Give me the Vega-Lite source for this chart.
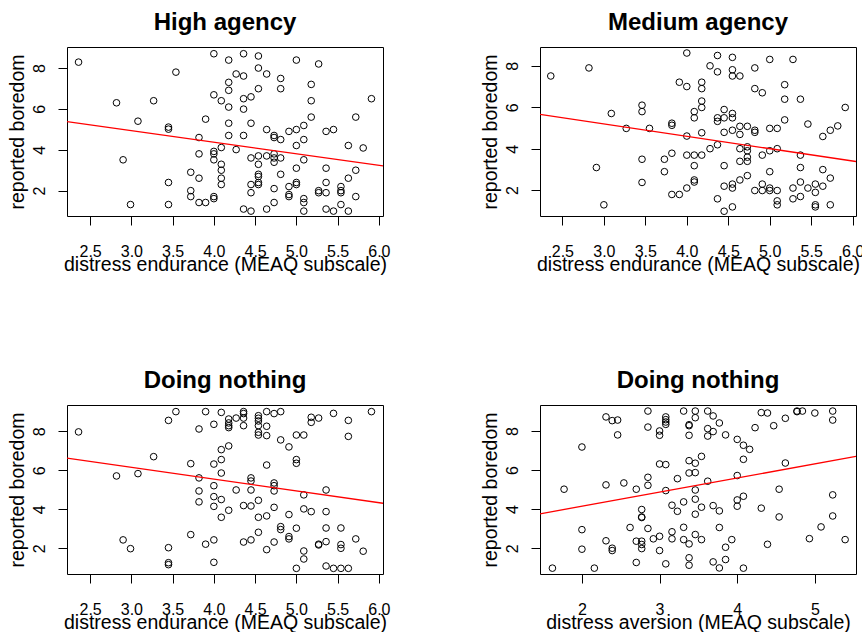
{
  "$schema": "https://vega.github.io/schema/vega-lite/v6.json",
  "background": "white",
  "padding": {"left": 6, "top": 10, "right": 10, "bottom": 0},
  "bounds": "flush",
  "spacing": 358,
  "datasets": {
    "high": [
      {"x":2.36,"y":8.29},{"x":3.54,"y":7.80},{"x":4.0,"y":8.70},{"x":4.18,"y":8.39},{"x":4.36,"y":8.70},{"x":4.54,"y":8.59},{"x":5.0,"y":8.39},{"x":5.27,"y":8.20},{"x":4.54,"y":8.0},{"x":4.64,"y":7.71},
      {"x":4.27,"y":7.71},{"x":4.36,"y":7.61},{"x":4.18,"y":7.30},{"x":4.18,"y":6.91},{"x":4.81,"y":7.49},{"x":4.81,"y":6.99},{"x":5.18,"y":7.20},{"x":4.54,"y":6.99},{"x":4.45,"y":6.59},{"x":4.36,"y":6.50},
      {"x":4.0,"y":6.69},{"x":4.09,"y":6.40},{"x":4.18,"y":6.09},{"x":4.36,"y":5.99},{"x":5.18,"y":6.40},{"x":5.91,"y":6.50},{"x":2.82,"y":6.30},{"x":3.27,"y":6.40},{"x":3.08,"y":5.40},{"x":3.45,"y":5.11},
      {"x":3.45,"y":5.01},{"x":3.90,"y":5.50},{"x":4.18,"y":5.30},{"x":4.45,"y":5.30},{"x":5.18,"y":5.60},{"x":5.72,"y":5.60},{"x":5.09,"y":5.19},{"x":5.0,"y":4.99},{"x":4.91,"y":4.90},{"x":4.64,"y":4.99},
      {"x":4.73,"y":4.70},{"x":4.73,"y":4.60},{"x":4.81,"y":4.50},{"x":5.36,"y":4.90},{"x":5.45,"y":4.99},{"x":4.18,"y":4.70},{"x":4.36,"y":4.70},{"x":3.82,"y":4.60},{"x":5.09,"y":4.50},{"x":5.0,"y":4.21},
      {"x":5.63,"y":4.21},{"x":5.81,"y":4.09},{"x":4.09,"y":4.11},{"x":4.27,"y":4.01},{"x":4.0,"y":3.92},{"x":4.0,"y":3.80},{"x":3.82,"y":3.80},{"x":4.0,"y":3.51},{"x":2.90,"y":3.51},{"x":4.45,"y":3.60},
      {"x":4.54,"y":3.70},{"x":4.64,"y":3.70},{"x":4.73,"y":3.80},{"x":4.73,"y":3.60},{"x":4.73,"y":3.39},{"x":4.81,"y":3.60},{"x":5.09,"y":3.51},{"x":4.54,"y":3.29},{"x":4.09,"y":3.29},{"x":4.09,"y":3.0},
      {"x":4.09,"y":2.61},{"x":4.09,"y":2.30},{"x":3.72,"y":2.90},{"x":3.82,"y":2.61},{"x":3.45,"y":2.40},{"x":3.72,"y":2.0},{"x":3.72,"y":1.71},{"x":3.82,"y":1.42},{"x":3.90,"y":1.42},{"x":4.0,"y":1.71},
      {"x":4.0,"y":1.61},{"x":2.99,"y":1.32},{"x":3.45,"y":1.32},{"x":4.36,"y":1.10},{"x":4.45,"y":1.0},{"x":4.45,"y":1.90},{"x":4.45,"y":2.30},{"x":4.54,"y":2.80},{"x":4.54,"y":2.69},{"x":4.54,"y":2.40},
      {"x":4.54,"y":2.30},{"x":4.64,"y":1.10},{"x":4.73,"y":1.42},{"x":4.73,"y":2.10},{"x":4.81,"y":2.80},{"x":4.91,"y":2.20},{"x":4.91,"y":1.81},{"x":4.91,"y":1.71},{"x":5.0,"y":3.10},{"x":5.0,"y":2.40},
      {"x":5.0,"y":2.30},{"x":5.09,"y":1.61},{"x":5.09,"y":1.42},{"x":5.09,"y":1.0},{"x":5.27,"y":2.0},{"x":5.27,"y":1.90},{"x":5.36,"y":1.90},{"x":5.36,"y":2.40},{"x":5.36,"y":3.10},{"x":5.36,"y":1.10},
      {"x":5.45,"y":1.0},{"x":5.54,"y":2.20},{"x":5.54,"y":2.0},{"x":5.54,"y":1.90},{"x":5.54,"y":1.32},{"x":5.63,"y":2.61},{"x":5.63,"y":1.0},{"x":5.72,"y":3.0},{"x":5.72,"y":1.71}
    ],
    "medium": [
      {"x":2.36,"y":7.51},{"x":2.82,"y":7.90},{"x":2.91,"y":3.09},{"x":3.0,"y":1.29},{"x":3.09,"y":5.70},{"x":3.27,"y":4.98},{"x":3.46,"y":6.10},{"x":3.46,"y":5.79},{"x":3.46,"y":3.49},{"x":3.46,"y":2.37},
      {"x":3.55,"y":4.98},{"x":3.73,"y":3.49},{"x":3.73,"y":2.89},{"x":3.82,"y":5.23},{"x":3.82,"y":5.13},{"x":3.82,"y":3.78},{"x":3.82,"y":1.79},{"x":3.91,"y":7.21},{"x":3.91,"y":1.79},{"x":4.0,"y":8.62},
      {"x":4.0,"y":7.0},{"x":4.0,"y":4.61},{"x":4.0,"y":3.69},{"x":4.0,"y":2.10},{"x":4.09,"y":5.79},{"x":4.09,"y":5.49},{"x":4.09,"y":3.69},{"x":4.09,"y":3.18},{"x":4.09,"y":2.49},{"x":4.09,"y":2.39},
      {"x":4.18,"y":7.21},{"x":4.18,"y":6.90},{"x":4.18,"y":6.30},{"x":4.18,"y":5.99},{"x":4.18,"y":4.77},{"x":4.18,"y":3.69},{"x":4.28,"y":8.0},{"x":4.28,"y":4.0},{"x":4.37,"y":8.5},{"x":4.37,"y":7.71},
      {"x":4.37,"y":5.49},{"x":4.37,"y":5.32},{"x":4.37,"y":4.19},{"x":4.37,"y":1.58},{"x":4.45,"y":5.89},{"x":4.45,"y":5.49},{"x":4.45,"y":4.79},{"x":4.45,"y":3.18},{"x":4.45,"y":2.19},{"x":4.45,"y":0.98},
      {"x":4.55,"y":8.41},{"x":4.55,"y":7.81},{"x":4.55,"y":7.51},{"x":4.64,"y":7.51},{"x":4.55,"y":5.70},{"x":4.55,"y":5.49},{"x":4.55,"y":4.89},{"x":4.55,"y":2.29},{"x":4.55,"y":2.10},{"x":4.55,"y":1.19},
      {"x":4.64,"y":5.08},{"x":4.64,"y":4.69},{"x":4.64,"y":4.0},{"x":4.64,"y":3.39},{"x":4.64,"y":2.49},{"x":4.73,"y":5.08},{"x":4.73,"y":4.09},{"x":4.73,"y":3.90},{"x":4.73,"y":3.59},{"x":4.73,"y":3.39},
      {"x":4.73,"y":2.70},{"x":4.82,"y":7.90},{"x":4.82,"y":6.90},{"x":4.82,"y":4.89},{"x":4.82,"y":4.79},{"x":4.82,"y":1.98},{"x":4.91,"y":6.70},{"x":4.91,"y":3.69},{"x":4.91,"y":2.29},{"x":4.91,"y":1.98},
      {"x":5.0,"y":8.31},{"x":5.0,"y":4.98},{"x":5.0,"y":3.90},{"x":5.0,"y":2.89},{"x":5.0,"y":2.10},{"x":5.0,"y":1.98},{"x":5.09,"y":4.98},{"x":5.09,"y":4.0},{"x":5.09,"y":1.98},{"x":5.09,"y":1.48},
      {"x":5.09,"y":1.29},{"x":5.18,"y":7.09},{"x":5.18,"y":6.39},{"x":5.18,"y":5.39},{"x":5.28,"y":8.31},{"x":5.28,"y":2.10},{"x":5.28,"y":1.58},{"x":5.37,"y":6.39},{"x":5.37,"y":3.69},{"x":5.37,"y":3.09},
      {"x":5.37,"y":2.39},{"x":5.37,"y":1.69},{"x":5.46,"y":5.19},{"x":5.46,"y":2.10},{"x":5.55,"y":2.29},{"x":5.55,"y":1.89},{"x":5.55,"y":1.29},{"x":5.55,"y":1.19},{"x":5.64,"y":4.59},{"x":5.64,"y":2.99},
      {"x":5.64,"y":2.19},{"x":5.73,"y":4.89},{"x":5.73,"y":2.58},{"x":5.73,"y":1.29},{"x":5.82,"y":5.10},{"x":5.91,"y":5.99}
    ],
    "nothing_endurance": [
      {"x":2.36,"y":7.97},{"x":2.82,"y":5.71},{"x":3.08,"y":5.83},{"x":3.27,"y":6.70},{"x":2.90,"y":2.43},{"x":2.99,"y":1.98},{"x":3.45,"y":8.56},{"x":3.54,"y":9.01},{"x":3.45,"y":2.03},{"x":3.45,"y":1.26},
      {"x":3.45,"y":1.16},{"x":3.72,"y":6.34},{"x":3.72,"y":2.70},{"x":3.82,"y":8.12},{"x":3.82,"y":5.61},{"x":3.82,"y":4.94},{"x":3.82,"y":4.38},{"x":3.90,"y":9.01},{"x":3.90,"y":2.21},{"x":4.0,"y":8.36},
      {"x":4.0,"y":6.32},{"x":4.0,"y":5.21},{"x":4.0,"y":4.65},{"x":4.0,"y":4.15},{"x":4.0,"y":2.43},{"x":4.0,"y":1.28},{"x":4.09,"y":8.97},{"x":4.09,"y":7.06},{"x":4.09,"y":6.55},{"x":4.09,"y":5.86},
      {"x":4.09,"y":4.50},{"x":4.09,"y":3.59},{"x":4.18,"y":8.63},{"x":4.18,"y":8.43},{"x":4.18,"y":8.29},{"x":4.18,"y":8.19},{"x":4.18,"y":7.25},{"x":4.18,"y":3.95},{"x":4.27,"y":8.68},{"x":4.27,"y":4.99},
      {"x":4.36,"y":9.01},{"x":4.36,"y":8.91},{"x":4.36,"y":8.68},{"x":4.36,"y":8.29},{"x":4.36,"y":4.19},{"x":4.36,"y":2.32},{"x":4.45,"y":5.61},{"x":4.45,"y":5.45},{"x":4.45,"y":4.99},{"x":4.45,"y":4.17},
      {"x":4.45,"y":2.43},{"x":4.54,"y":8.80},{"x":4.54,"y":8.67},{"x":4.54,"y":8.53},{"x":4.54,"y":8.29},{"x":4.54,"y":7.95},{"x":4.54,"y":7.81},{"x":4.54,"y":4.46},{"x":4.54,"y":3.59},{"x":4.54,"y":2.82},
      {"x":4.64,"y":9.01},{"x":4.64,"y":8.26},{"x":4.64,"y":7.78},{"x":4.64,"y":6.27},{"x":4.64,"y":3.66},{"x":4.64,"y":1.93},{"x":4.73,"y":8.91},{"x":4.73,"y":5.35},{"x":4.73,"y":5.21},{"x":4.73,"y":4.94},
      {"x":4.73,"y":4.10},{"x":4.73,"y":2.32},{"x":4.81,"y":9.01},{"x":4.81,"y":7.56},{"x":4.81,"y":3.11},{"x":4.81,"y":2.96},{"x":4.91,"y":7.20},{"x":4.91,"y":3.73},{"x":4.91,"y":2.60},{"x":4.91,"y":2.48},
      {"x":5.0,"y":7.81},{"x":5.0,"y":6.55},{"x":5.0,"y":6.36},{"x":5.0,"y":3.03},{"x":5.0,"y":0.97},{"x":5.09,"y":7.81},{"x":5.09,"y":4.74},{"x":5.09,"y":4.02},{"x":5.09,"y":1.86},{"x":5.09,"y":1.45},
      {"x":5.18,"y":8.72},{"x":5.18,"y":8.46},{"x":5.18,"y":3.88},{"x":5.27,"y":8.68},{"x":5.27,"y":2.21},{"x":5.27,"y":2.17},{"x":5.36,"y":4.99},{"x":5.36,"y":3.88},{"x":5.36,"y":3.04},{"x":5.36,"y":2.34},
      {"x":5.36,"y":1.09},{"x":5.45,"y":8.92},{"x":5.45,"y":0.97},{"x":5.54,"y":3.04},{"x":5.54,"y":2.19},{"x":5.54,"y":2.0},{"x":5.54,"y":0.97},{"x":5.63,"y":8.56},{"x":5.63,"y":7.74},{"x":5.63,"y":0.97},
      {"x":5.72,"y":2.48},{"x":5.81,"y":1.85},{"x":5.91,"y":9.01}
    ],
    "nothing_aversion": [
      {"x":1.62,"y":0.98},{"x":1.77,"y":5.02},{"x":2.0,"y":7.18},{"x":2.0,"y":2.95},{"x":2.0,"y":1.95},{"x":2.16,"y":0.98},{"x":2.31,"y":8.72},{"x":2.39,"y":8.53},{"x":2.46,"y":8.56},{"x":2.46,"y":7.80},
      {"x":2.31,"y":5.24},{"x":2.31,"y":2.38},{"x":2.39,"y":2.0},{"x":2.39,"y":1.88},{"x":2.54,"y":5.34},{"x":2.62,"y":3.06},{"x":2.70,"y":5.02},{"x":2.70,"y":2.36},{"x":2.70,"y":1.27},{"x":2.77,"y":3.98},
      {"x":2.77,"y":3.60},{"x":2.77,"y":3.57},{"x":2.77,"y":2.36},{"x":2.77,"y":2.19},{"x":2.77,"y":1.98},{"x":2.85,"y":9.02},{"x":2.85,"y":8.20},{"x":2.85,"y":5.63},{"x":2.85,"y":5.22},{"x":2.85,"y":3.01},
      {"x":2.92,"y":2.48},{"x":3.0,"y":8.0},{"x":3.0,"y":7.78},{"x":3.0,"y":6.31},{"x":3.0,"y":2.61},{"x":3.0,"y":1.88},{"x":3.08,"y":8.72},{"x":3.08,"y":8.58},{"x":3.08,"y":8.46},{"x":3.08,"y":8.34},
      {"x":3.08,"y":6.28},{"x":3.08,"y":4.95},{"x":3.08,"y":1.20},{"x":3.16,"y":4.20},{"x":3.16,"y":2.84},{"x":3.16,"y":2.48},{"x":3.23,"y":5.56},{"x":3.23,"y":3.89},{"x":3.31,"y":9.02},{"x":3.31,"y":4.37},
      {"x":3.31,"y":3.07},{"x":3.31,"y":2.44},{"x":3.38,"y":8.32},{"x":3.38,"y":8.27},{"x":3.38,"y":7.78},{"x":3.38,"y":6.48},{"x":3.38,"y":5.85},{"x":3.38,"y":2.22},{"x":3.38,"y":1.51},{"x":3.38,"y":1.13},
      {"x":3.46,"y":9.02},{"x":3.46,"y":8.68},{"x":3.46,"y":6.35},{"x":3.46,"y":5.87},{"x":3.46,"y":4.98},{"x":3.46,"y":4.51},{"x":3.46,"y":3.74},{"x":3.46,"y":2.70},{"x":3.54,"y":6.70},{"x":3.54,"y":4.10},
      {"x":3.54,"y":2.44},{"x":3.62,"y":9.02},{"x":3.62,"y":8.12},{"x":3.62,"y":7.74},{"x":3.62,"y":5.43},{"x":3.69,"y":8.77},{"x":3.69,"y":7.97},{"x":3.69,"y":4.18},{"x":3.69,"y":1.30},{"x":3.77,"y":8.41},
      {"x":3.77,"y":3.91},{"x":3.77,"y":3.06},{"x":3.77,"y":0.99},{"x":3.85,"y":7.80},{"x":3.85,"y":2.05},{"x":3.85,"y":1.42},{"x":3.93,"y":2.44},{"x":4.0,"y":7.57},{"x":4.0,"y":5.72},{"x":4.0,"y":4.47},
      {"x":4.0,"y":4.15},{"x":4.08,"y":7.27},{"x":4.08,"y":6.55},{"x":4.08,"y":4.66},{"x":4.08,"y":0.98},{"x":4.16,"y":7.06},{"x":4.23,"y":8.17},{"x":4.31,"y":8.94},{"x":4.31,"y":4.05},{"x":4.39,"y":8.92},
      {"x":4.39,"y":2.20},{"x":4.47,"y":8.27},{"x":4.54,"y":5.02},{"x":4.54,"y":3.60},{"x":4.62,"y":8.65},{"x":4.62,"y":6.36},{"x":4.77,"y":8.99},{"x":4.77,"y":9.02},{"x":4.84,"y":9.02},{"x":4.93,"y":2.49},
      {"x":5.0,"y":8.92},{"x":5.08,"y":3.09},{"x":5.23,"y":9.02},{"x":5.23,"y":8.56},{"x":5.23,"y":4.73},{"x":5.23,"y":3.65},{"x":5.39,"y":2.44}
    ],
    "fits": [
      {"panel":"high","x":2.22,"y":5.38},{"panel":"high","x":6.05,"y":3.21},
      {"panel":"medium","x":2.23,"y":5.66},{"panel":"medium","x":6.04,"y":3.38},
      {"panel":"nothing_endurance","x":2.22,"y":6.62},{"panel":"nothing_endurance","x":6.05,"y":4.31},
      {"panel":"nothing_aversion","x":1.46,"y":3.76},{"panel":"nothing_aversion","x":5.53,"y":6.70}
    ]
  },
  "vconcat": [
    {
      "bounds": "flush",
      "spacing": 157,
      "hconcat": [
        {
          "width": 316, "height": 169,
          "title": {"text": "High agency"},
          "layer": [
            {
              "data": {"name": "high"},
              "mark": {"type": "point", "shape": "circle", "filled": false, "stroke": "black", "strokeWidth": 1, "size": 44, "opacity": 1},
              "encoding": {
                "x": {"field": "x", "type": "quantitative", "scale": {"domain": [2.22, 6.05], "nice": false, "zero": false},
                      "axis": {"title": "distress endurance (MEAQ subscale)", "values": [2.5, 3, 3.5, 4, 4.5, 5, 5.5, 6], "format": ".1f"}},
                "y": {"field": "y", "type": "quantitative", "scale": {"domain": [0.76, 9.03], "nice": false, "zero": false},
                      "axis": {"title": "reported boredom", "values": [2, 4, 6, 8]}}
              }
            },
            {
              "data": {"name": "fits"},
              "transform": [{"filter": "datum.panel == 'high'"}],
              "mark": {"type": "line", "color": "#ff0000", "strokeWidth": 1.3, "clip": true},
              "encoding": {"x": {"field": "x", "type": "quantitative"}, "y": {"field": "y", "type": "quantitative"}}
            }
          ]
        },
        {
          "width": 316, "height": 169,
          "title": {"text": "Medium agency"},
          "layer": [
            {
              "data": {"name": "medium"},
              "mark": {"type": "point", "shape": "circle", "filled": false, "stroke": "black", "strokeWidth": 1, "size": 44, "opacity": 1},
              "encoding": {
                "x": {"field": "x", "type": "quantitative", "scale": {"domain": [2.23, 6.04], "nice": false, "zero": false},
                      "axis": {"title": "distress endurance (MEAQ subscale)", "values": [2.5, 3, 3.5, 4, 4.5, 5, 5.5, 6], "format": ".1f"}},
                "y": {"field": "y", "type": "quantitative", "scale": {"domain": [0.75, 8.91], "nice": false, "zero": false},
                      "axis": {"title": "reported boredom", "values": [2, 4, 6, 8]}}
              }
            },
            {
              "data": {"name": "fits"},
              "transform": [{"filter": "datum.panel == 'medium'"}],
              "mark": {"type": "line", "color": "#ff0000", "strokeWidth": 1.3, "clip": true},
              "encoding": {"x": {"field": "x", "type": "quantitative"}, "y": {"field": "y", "type": "quantitative"}}
            }
          ]
        }
      ]
    },
    {
      "bounds": "flush",
      "spacing": 157,
      "hconcat": [
        {
          "width": 316, "height": 169,
          "title": {"text": "Doing nothing"},
          "layer": [
            {
              "data": {"name": "nothing_endurance"},
              "mark": {"type": "point", "shape": "circle", "filled": false, "stroke": "black", "strokeWidth": 1, "size": 44, "opacity": 1},
              "encoding": {
                "x": {"field": "x", "type": "quantitative", "scale": {"domain": [2.22, 6.05], "nice": false, "zero": false},
                      "axis": {"title": "distress endurance (MEAQ subscale)", "values": [2.5, 3, 3.5, 4, 4.5, 5, 5.5, 6], "format": ".1f"}},
                "y": {"field": "y", "type": "quantitative", "scale": {"domain": [0.68, 9.35], "nice": false, "zero": false},
                      "axis": {"title": "reported boredom", "values": [2, 4, 6, 8]}}
              }
            },
            {
              "data": {"name": "fits"},
              "transform": [{"filter": "datum.panel == 'nothing_endurance'"}],
              "mark": {"type": "line", "color": "#ff0000", "strokeWidth": 1.3, "clip": true},
              "encoding": {"x": {"field": "x", "type": "quantitative"}, "y": {"field": "y", "type": "quantitative"}}
            }
          ]
        },
        {
          "width": 316, "height": 169,
          "title": {"text": "Doing nothing"},
          "layer": [
            {
              "data": {"name": "nothing_aversion"},
              "mark": {"type": "point", "shape": "circle", "filled": false, "stroke": "black", "strokeWidth": 1, "size": 44, "opacity": 1},
              "encoding": {
                "x": {"field": "x", "type": "quantitative", "scale": {"domain": [1.46, 5.53], "nice": false, "zero": false},
                      "axis": {"title": "distress aversion (MEAQ subscale)", "values": [2, 3, 4, 5], "format": "d"}},
                "y": {"field": "y", "type": "quantitative", "scale": {"domain": [0.68, 9.33], "nice": false, "zero": false},
                      "axis": {"title": "reported boredom", "values": [2, 4, 6, 8]}}
              }
            },
            {
              "data": {"name": "fits"},
              "transform": [{"filter": "datum.panel == 'nothing_aversion'"}],
              "mark": {"type": "line", "color": "#ff0000", "strokeWidth": 1.3, "clip": true},
              "encoding": {"x": {"field": "x", "type": "quantitative"}, "y": {"field": "y", "type": "quantitative"}}
            }
          ]
        }
      ]
    }
  ],
  "config": {
    "view": {"stroke": "black", "strokeWidth": 1, "fill": "white"},
    "title": {"font": "Liberation Sans", "fontSize": 24, "fontWeight": "bold", "color": "black", "anchor": "middle", "frame": "group", "baseline": "alphabetic", "offset": 12},
    "axis": {
      "grid": false, "domain": false,
      "ticks": true, "tickColor": "black", "tickWidth": 1, "tickSize": 9,
      "labelFont": "Liberation Sans", "labelFontSize": 16, "labelColor": "black",
      "labelOverlap": false, "labelFlush": false,
      "titleFont": "Liberation Sans", "titleFontSize": 19.5, "titleFontWeight": "normal", "titleColor": "black"
    },
    "axisX": {"labelBaseline": "top", "labelPadding": 18, "titleBaseline": "alphabetic", "titleY": 54},
    "axisY": {"labelAngle": 270, "labelAlign": "center", "labelBaseline": "alphabetic", "labelPadding": 14, "titleAngle": 270, "titleBaseline": "alphabetic", "titleX": -44}
  }
}
